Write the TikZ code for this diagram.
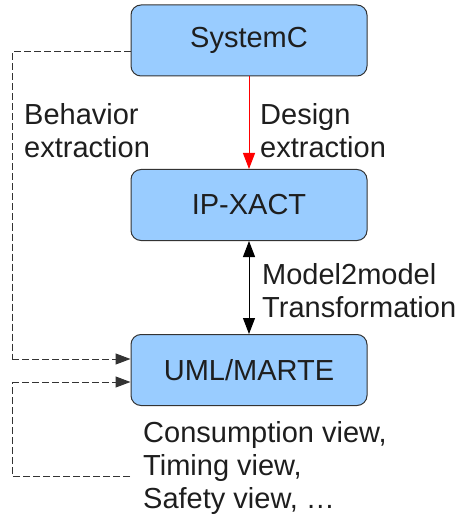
\documentclass[tikz,border=0pt]{standalone}
\usepackage{fontspec}
\setmainfont{Liberation Sans}
\usetikzlibrary{arrows.meta}
\definecolor{boxblue}{HTML}{99CCFF}
\definecolor{txt}{HTML}{1E1E1E}
\definecolor{edge}{HTML}{333333}
\begin{document}
\begin{tikzpicture}[x=1pt,y=1pt,
  block/.style={draw=edge,line width=1pt,fill=boxblue,rounded corners=10pt,minimum width=236pt,minimum height=71pt,inner sep=0pt,text=txt,font=\fontsize{29}{32}\selectfont},
  lbl/.style={anchor=north west,inner sep=0pt,align=left,text=txt,font=\fontsize{29}{33}\selectfont},
  dashline/.style={draw=edge,line width=1pt,dash pattern=on 7pt off 3pt},
  tip/.style={-{Triangle[length=15pt,width=11pt]}}]
\useasboundingbox (0,0) rectangle (459,-518);
\node[block] (sys) at (249,-40.5) {SystemC};
\node[block] (ip) at (249,-205) {IP-XACT};
\node[block] (uml) at (249,-370) {UML/MARTE};
\node[lbl] (beh) at (24,-103) {Behavior\\extraction};
\node[lbl] (des) at (260,-103) {Design\\extraction};
\node[lbl] (m2m) at (262,-263) {Model2model\\Transformation};
\node[lbl] (views) at (143,-421) {Consumption view,\\Timing view,\\Safety view, \dots};
\coordinate (a1) at (12,-52);
\coordinate (a2) at (12,-359);
\coordinate (b0) at (130,-476);
\coordinate (b1) at (12,-476);
\coordinate (b2) at (12,-382);
\draw[red,line width=1pt,-{Triangle[length=16pt,width=12pt]}] (sys.south) -- (ip.north);
\draw[black,line width=1pt,{Triangle[length=16pt,width=12pt]}-{Triangle[length=16pt,width=12pt]}] (ip.south) -- (uml.north);
\draw[dashline] (sys.west |- a1) -- (a1) -- (a2);
\draw[dashline,tip,dash pattern=on 7pt off 3pt] (a2) -- (uml.west |- a2);
\draw[dashline] (b0) -- (b1) -- (b2);
\draw[dashline,tip] (b2) -- (uml.west |- b2);
\end{tikzpicture}
\end{document}
